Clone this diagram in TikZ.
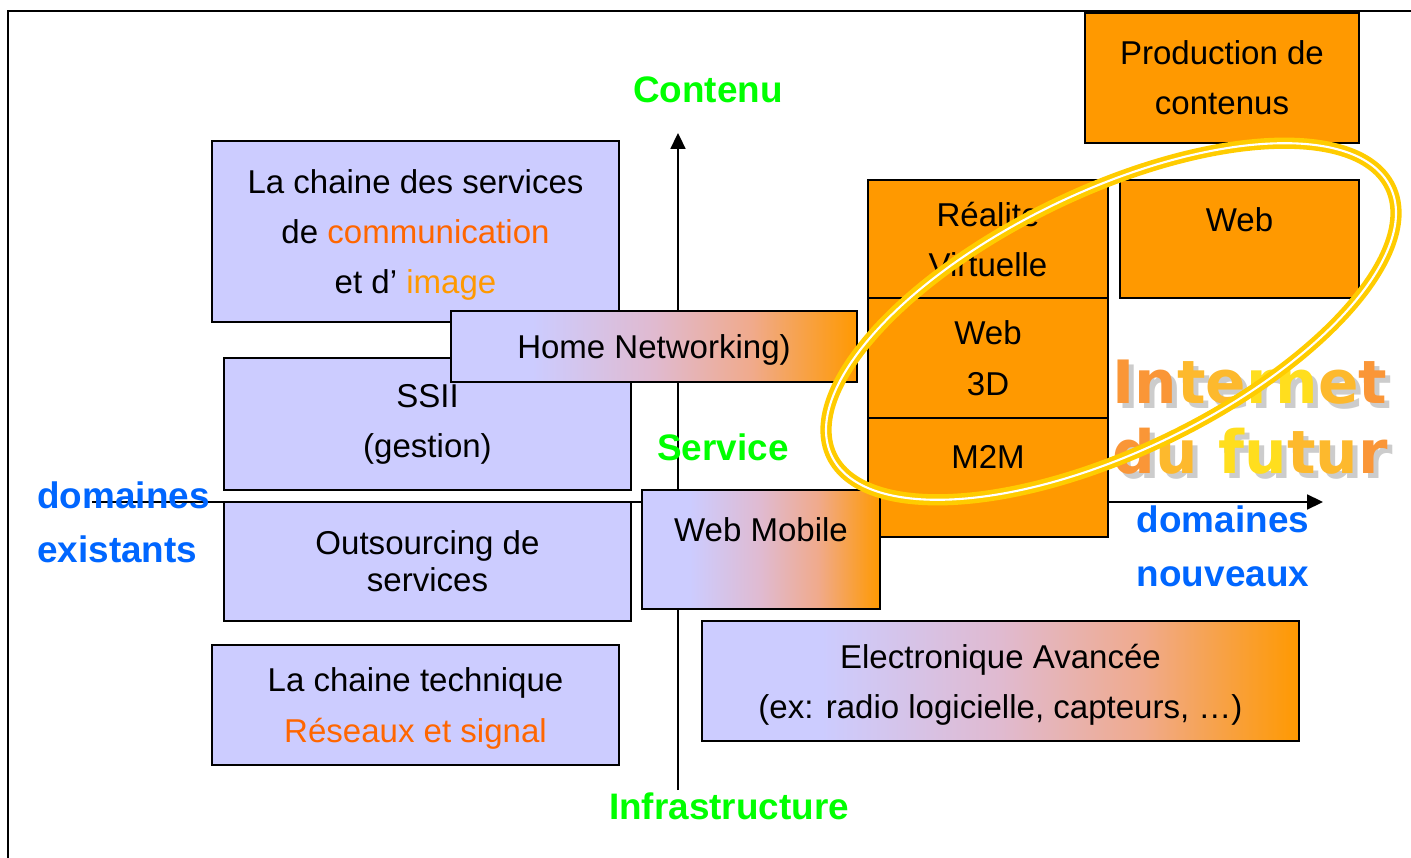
\documentclass[tikz,border=0pt]{standalone}
\usepackage{fontspec}
\setmainfont{Liberation Sans}
\newfontfamily\futurfont{DejaVu Sans}
\usepackage{xcolor}
\usepackage{tikz}
\usetikzlibrary{arrows.meta, positioning, calc}
\definecolor{lilac}{RGB}{204,204,255}
\definecolor{tangerine}{RGB}{255,153,0}
\definecolor{pinkmid}{RGB}{224,186,208}
\definecolor{peach}{RGB}{240,170,140}
\definecolor{darkorange}{RGB}{255,102,0}
\definecolor{axisgreen}{RGB}{0,255,0}
\definecolor{axisblue}{RGB}{0,102,255}
\definecolor{ringyellow}{RGB}{255,204,0}
\definecolor{futA}{RGB}{250,150,55}
\definecolor{futB}{RGB}{253,185,45}
\definecolor{futC}{RGB}{255,222,30}
\pgfdeclarehorizontalshading{lavtoorange}{100bp}{color(0bp)=(lilac); color(35bp)=(lilac); color(50bp)=(pinkmid); color(62bp)=(peach); color(75bp)=(tangerine); color(100bp)=(tangerine)}
\newcommand{\boxfont}{\fontsize{18.8}{28.5}\selectfont}
\newcommand{\axisfont}{\fontsize{21}{31}\selectfont\bfseries}
\newcommand{\futurtext}{\futurfont\bfseries\fontsize{34}{40}\selectfont}
\tikzstyle{lilacbox} = [rectangle, draw=black, line width=1.1pt, fill=lilac, align=center, font=\boxfont]
\tikzstyle{fadebox} = [rectangle, draw=black, line width=1.1pt, shading=lavtoorange, align=center, font=\boxfont]
\tikzstyle{tangerinebox} = [rectangle, draw=black, line width=1.1pt, fill=tangerine, align=center, font=\boxfont]
\tikzstyle{axisline} = [line width=1pt, -{Triangle[length=9pt,width=8.5pt]}]
\tikzset{toptext/.style={label={[anchor=north, yshift=-0.44cm, font=\boxfont]north:#1}},
  textdown/.style={text depth=#1}}

\begin{document}
\begin{tikzpicture}[x=0.02cm, y=-0.02cm]
\useasboundingbox (0,0) rectangle (1411,858);

% frame
\draw[line width=1.6pt] (8,858) -- (8,11) -- (1411,11);

% axes
\coordinate (ybot) at (678,790);
\coordinate (ytop) at (678,133);
\coordinate (xleft) at (92,502);
\coordinate (xright) at (1323,502);
\draw[axisline] (ybot) -- (ytop);
\draw[axisline] (xleft) -- (xright);

% existing domains
\node[lilacbox, textdown=-0.6pt, minimum width=8.14cm, minimum height=3.62cm] (chainserv) at (415.5,231.5)
{La chaine des services\\de \textcolor{darkorange}{communication}\\et d’ \textcolor{tangerine}{image}};
\node[lilacbox, minimum width=8.14cm, minimum height=2.64cm] (ssii) at (427.5,424) {SSII\\(gestion)};
\node[fadebox, textdown=-4pt, minimum width=8.12cm, minimum height=1.42cm] (homenet) at (654,346.5) {Home Networking)};
\node[lilacbox, minimum width=8.14cm, minimum height=2.38cm,
font=\fontsize{18.8}{21}\selectfont] (outsourcing) at (427.5,561.5) {Outsourcing de\\services};
\node[lilacbox, textdown=-11pt, minimum width=8.14cm, minimum height=2.4cm] (chaintech) at (415.5,705)
{La chaine technique\\\textcolor{darkorange}{Réseaux et signal}};

% new domains
\node[tangerinebox, minimum width=5.48cm, minimum height=2.6cm] (prodcont) at (1222,78) {Production de\\contenus};
\node[tangerinebox, textdown=-11pt, minimum width=4.8cm, minimum height=2.36cm] (realite) at (988,239) {Réalite\\Virtuelle};
\node[tangerinebox, textdown=-11pt, minimum width=4.8cm, minimum height=2.4cm] (webtroisd) at (988,358) {Web\\ 3D};
\node[tangerinebox, minimum width=4.8cm, minimum height=2.38cm, toptext={M2M}] (mtom) at (988,477.5) {};
\node[tangerinebox, minimum width=4.78cm, minimum height=2.36cm, toptext={Web}] (web) at (1239.5,239) {};
\node[fadebox, minimum width=4.76cm, minimum height=2.38cm, toptext={Web Mobile}] (webmobile) at (761,549.5) {};
\node[fadebox, textdown=-11pt, minimum width=11.94cm, minimum height=2.4cm] (electro) at (1000.5,681)
{Electronique Avancée\\(ex: radio logicielle, capteurs, …)};

% axis labels
\node[font=\axisfont, text=axisgreen] (contenu) at (708,90) {Contenu};
\node[font=\axisfont, text=axisgreen] (service) at (723,447) {Service};
\node[font=\axisfont, text=axisgreen] (infra) at (729,806) {Infrastructure};
\node[font=\fontsize{21}{30.7}\selectfont\bfseries, text=axisblue, align=left, anchor=west, inner sep=0pt]
(existants) at (37,522) {domaines\\existants};
\node[font=\fontsize{21}{30.7}\selectfont\bfseries, text=axisblue, align=center] (nouveaux) at (1223,546) {domaines\\nouveaux};

% internet du futur
\node[font=\futurtext, text=gray!40, align=center] (futurshadow) at (1255,422) {Internet\\du futur};
\node[font=\futurtext, align=center] (futur) at (1250,417)
{\textcolor{futA}{In}\textcolor{futB}{te}\textcolor{futC}{rn}\textcolor{futB}{e}\textcolor{futA}{t}\\
\textcolor{futA}{d}\textcolor{futB}{u} \textcolor{futC}{fu}\textcolor{futB}{tu}\textcolor{futA}{r}};
\draw[draw=ringyellow, line width=2.6pt, double=white, double distance=1.2pt,
rotate around={25.7:(1111,321.5)}] (1111,321.5) ellipse [x radius=310, y radius=130];
\end{tikzpicture}
\end{document}
